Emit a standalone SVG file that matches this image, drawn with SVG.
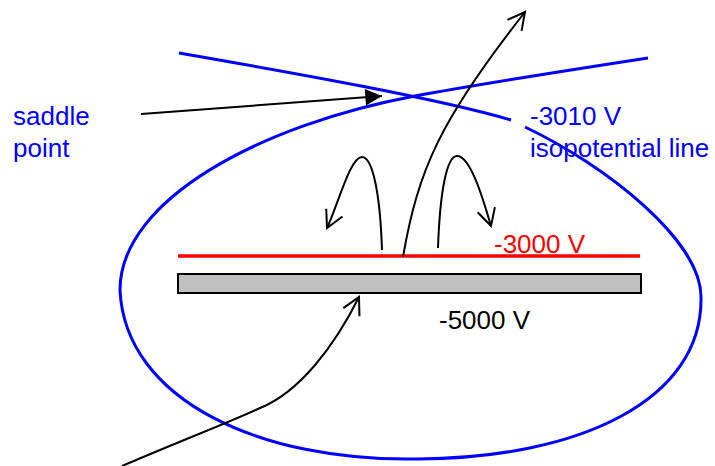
<svg xmlns="http://www.w3.org/2000/svg" width="715" height="466" viewBox="0 0 715 466">
<style>
  .lbl { font-family: "Liberation Sans", Arial, sans-serif; font-size: 26px; }
  .blue { fill: #0000ff; }
  .iso { fill: none; stroke: #0000ff; stroke-width: 3; }
  .conn { fill: none; stroke: #000; stroke-width: 2; }
</style>
<defs>
  <marker id="open" markerUnits="userSpaceOnUse" orient="auto" markerWidth="24" markerHeight="24" viewBox="-20 -12 24 24" refX="0" refY="0" overflow="visible">
    <path d="M-17,-9 L0,0 L-17,9" fill="none" stroke="#000" stroke-width="2"/>
  </marker>
  <marker id="solid" markerUnits="userSpaceOnUse" orient="auto" markerWidth="20" markerHeight="20" viewBox="-16 -8 18 16" refX="0" refY="0" overflow="visible">
    <path d="M-15,-7.5 L0,0 L-15,7.5 Z" fill="#000"/>
  </marker>
</defs>
<rect width="715" height="466" fill="#fff"/>

<g id="isopotential-line">
  <path class="iso" d="M179,53 C300,74 440,99 511,120"/>
  <path class="iso" d="M648,58 C570,70 480,84 415,96 C260,125 120,200 120,290 C125,400 260,462 418,459 C580,458 703,400 701,297 C701,240 605,165 525,127"/>
</g>

<g id="electrode">
  <rect x="178" y="274" width="463" height="19" fill="#c0c0c0" stroke="#000" stroke-width="2"/>
</g>

<g id="grid">
  <line x1="178" y1="256" x2="640" y2="256" stroke="#ff0000" stroke-width="3.5"/>
</g>

<g id="connectors">
  <path class="conn" d="M141,114 L382,96" marker-end="url(#solid)"/>
  <path class="conn" d="M403,257 C418,170 440,120 525,12" marker-end="url(#open)"/>
  <path class="conn" d="M382,250 C380,190 372,157 362,157 C350,157 338,205 327,228" marker-end="url(#open)"/>
  <path class="conn" d="M438,248 C440,190 447,156 457,156 C470,156 482,195 491,226" marker-end="url(#open)"/>
  <path class="conn" d="M122,466 C180,441 225,424 260,408 C300,392 335,345 359,297" marker-end="url(#open)"/>
</g>

<g id="label-saddle">
  <text class="lbl blue" x="13" y="125">saddle</text>
  <text class="lbl blue" x="13" y="157">point</text>
</g>
<g id="label-3010">
  <text class="lbl blue" x="530" y="125">-3010 V</text>
  <text class="lbl blue" x="530" y="157">isopotential line</text>
</g>
<g id="label-3000">
  <text class="lbl" x="494" y="253" fill="#ff0000">-3000 V</text>
</g>
<g id="label-5000">
  <text class="lbl" x="439" y="329" fill="#000">-5000 V</text>
</g>
</svg>
